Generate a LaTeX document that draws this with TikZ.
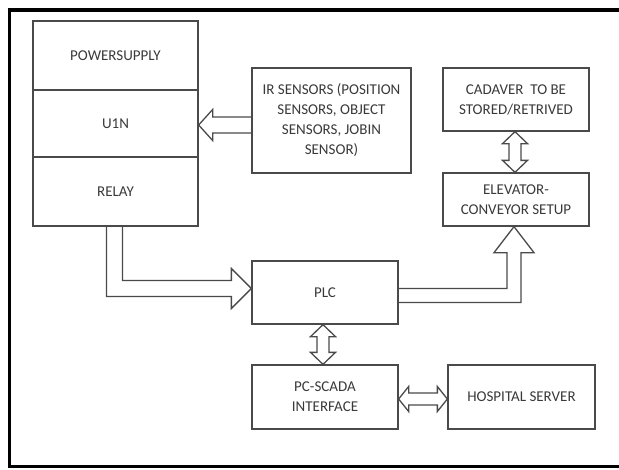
\documentclass[tikz,border=0pt]{standalone}
\usepackage{fontspec}
\setmainfont{Carlito}
\usetikzlibrary{calc}
\definecolor{ln}{HTML}{4A4A4A}
\definecolor{tx}{HTML}{3A3A3A}
\newcommand\vdbl[2]{%
  \draw[blk] (#1) -- ($(#1)+(12.5,12)$) -- ($(#1)+(6,12)$) -- ($(#2)+(6,-12)$) -- ($(#2)+(12.5,-12)$) -- (#2) -- ($(#2)+(-12.5,-12)$) -- ($(#2)+(-6,-12)$) -- ($(#1)+(-6,12)$) -- ($(#1)+(-12.5,12)$) -- cycle;}
\newcommand\hdbl[2]{%
  \draw[blk] (#1) -- ($(#1)+(10,-12.5)$) -- ($(#1)+(10,-6)$) -- ($(#2)+(-10,-6)$) -- ($(#2)+(-10,-12.5)$) -- (#2) -- ($(#2)+(-10,12.5)$) -- ($(#2)+(-10,6)$) -- ($(#1)+(10,6)$) -- ($(#1)+(10,12.5)$) -- cycle;}
\begin{document}
\begin{tikzpicture}[x=1pt,y=-1pt,
  box/.style={draw=ln, line width=1.3pt, fill=white, inner sep=0pt, align=center, text=tx,
    font=\fontsize{15}{20}\selectfont},
  blk/.style={draw=ln, line width=1.3pt, line join=miter}]
\useasboundingbox (0,0) rectangle (619,469);
% outer frame
\draw[line width=3pt] (619,466.5) -- (9,466.5) -- (9,9.5);
\draw[line width=4pt] (7.5,9.5) -- (619,9.5);
% left stack
\node[box, minimum width=165pt, minimum height=69pt] (ps) at (115.5,55.5) {POWERSUPPLY};
\node[box, minimum width=165pt, minimum height=67pt] (uin) at (115.5,123.5) {U1N};
\node[box, minimum width=165pt, minimum height=69pt] (relay) at (115.5,191.5) {RELAY};
% other boxes
\node[box, minimum width=159pt, minimum height=105pt] (ir) at (331.5,120.5) {IR SENSORS (POSITION\\SENSORS, OBJECT\\SENSORS, JOBIN\\SENSOR)};
\node[box, minimum width=146pt, minimum height=63pt] (cad) at (516,99.5) {CADAVER\ \ TO BE\\STORED/RETRIVED};
\node[box, minimum width=146pt, minimum height=53pt] (elev) at (516,199.5) {ELEVATOR-\\CONVEYOR SETUP};
\node[box, minimum width=146pt, minimum height=63pt] (plc) at (325,292.5) {PLC};
\node[box, minimum width=146pt, minimum height=64pt] (scada) at (325,397) {PC-SCADA\\INTERFACE};
\node[box, minimum width=147pt, minimum height=64pt] (hosp) at (521.5,397) {HOSPITAL SERVER};
% IR -> U1N
\coordinate (t1) at ($(uin.east)+(0,1.5)$);
\path (t1 -| ir.west) coordinate (s1);
\draw[blk] ($(s1)+(0,-8)$) -- ($(t1)+(14,-8)$) -- ($(t1)+(14,-15.5)$) -- (t1) -- ($(t1)+(14,15.5)$) -- ($(t1)+(14,8)$) -- ($(s1)+(0,8)$);
% RELAY -> PLC
\coordinate (rp) at ($(plc.west)+(0,-4)$);
\coordinate (rs) at ($(relay.south)+(-1,0)$);
\coordinate (rc) at (rs |- rp);
\draw[blk] ($(rs)+(-8,0)$) -- ($(rc)+(-8,8)$) -- ($(rp)+(-20,8)$) -- ($(rp)+(-20,20)$) -- (rp) -- ($(rp)+(-20,-20)$) -- ($(rp)+(-20,-8)$) -- ($(rc)+(8,-8)$) -- ($(rs)+(8,0)$);
% PLC -> ELEVATOR
\coordinate (pe) at ($(elev.south)+(-2,0)$);
\coordinate (ps0) at ($(plc.east)+(0,3)$);
\coordinate (pc) at (pe |- ps0);
\draw[blk] ($(ps0)+(0,-7)$) -- ($(pc)+(-7,-7)$) -- ($(pe)+(-7,26)$) -- ($(pe)+(-20,26)$) -- (pe) -- ($(pe)+(20,26)$) -- ($(pe)+(7,26)$) -- ($(pc)+(7,7)$) -- ($(ps0)+(0,7)$);
% double arrows
\coordinate (ca) at ($(cad.south)+(-1,0)$);
\coordinate (ea) at ($(elev.north)+(-1,0)$);
\vdbl{ca}{ea}
\coordinate (pa) at ($(plc.south)+(-2,0)$);
\coordinate (sa) at ($(scada.north)+(-2,0)$);
\vdbl{pa}{sa}
\coordinate (h1) at ($(scada.east)+(0,2)$);
\coordinate (h2) at ($(hosp.west)+(0,2)$);
\hdbl{h1}{h2}
\end{tikzpicture}
\end{document}
